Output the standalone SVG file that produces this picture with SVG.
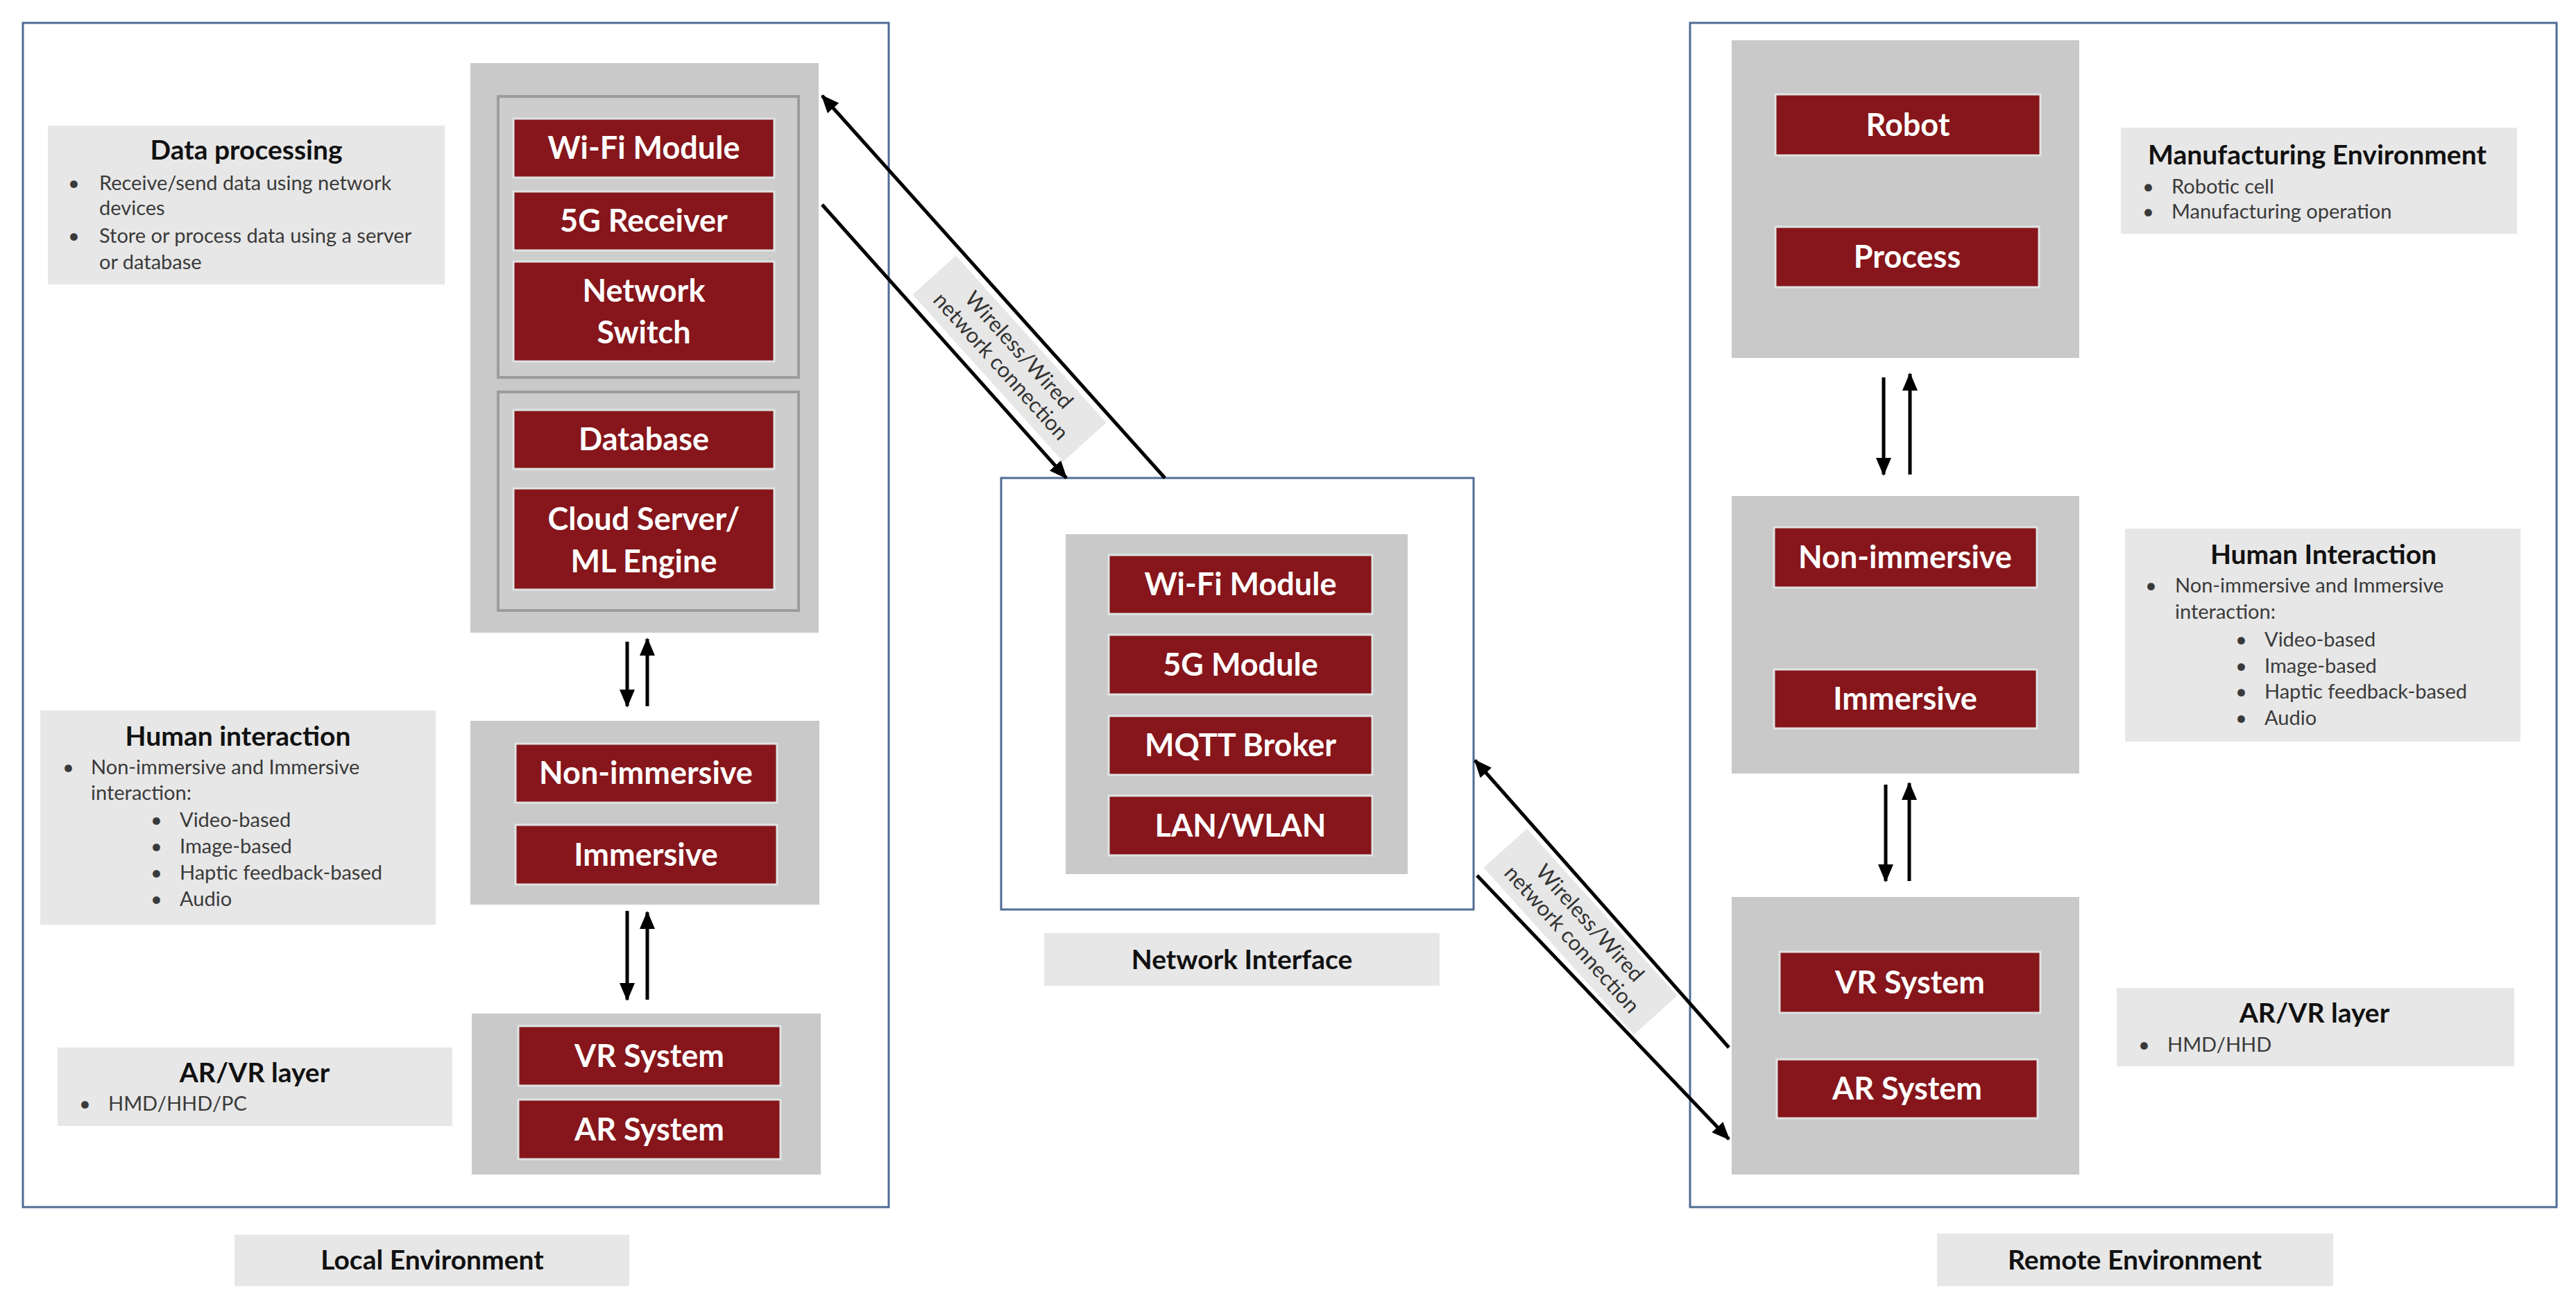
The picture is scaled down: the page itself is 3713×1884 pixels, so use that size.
<svg xmlns="http://www.w3.org/2000/svg" width="3713" height="1884" viewBox="0 0 3713 1884">
<defs>
<style>
text{font-family:Lato,"Liberation Sans",sans-serif}
.env{fill:#fff;stroke:#506c94;stroke-width:3}
.stack{fill:#c9c9c9}
.panel{fill:#cdcdcd;stroke:#9c9c9c;stroke-width:4}
.red{fill:#86161b;stroke:#dfe3e3;stroke-width:3}
.note{fill:#e7e7e7}
.rt{font-weight:700;font-size:45px;fill:#fff;text-anchor:middle}
.ttl{font-weight:700;font-size:39px;fill:#111;text-anchor:middle}
.body{font-size:29px;fill:#3a3a3a}
.wl{font-size:31px;fill:#333;text-anchor:middle}
.conn{stroke:#000;stroke-width:5;fill:none;marker-end:url(#ah)}
</style>
<marker id="ah" viewBox="0 0 26 22" refX="24" refY="11" markerWidth="26" markerHeight="22" markerUnits="userSpaceOnUse" orient="auto">
<path d="M0,0 L26,11 L0,22 z" fill="#000"/>
</marker>
</defs>
<rect width="3713" height="1884" fill="#fff"/>

<g id="local-env">
<rect class="env" x="33" y="33" width="1248" height="1707"/>
</g>
<g id="local-env-label">
<rect class="note" x="338" y="1780" width="569" height="74"/>
<text class="ttl" x="623" y="1830">Local Environment</text>
</g>

<g id="data-processing-note">
<rect class="note" x="69" y="181" width="572" height="229"/>
<text class="ttl" x="355" y="230">Data processing</text>
<text class="body" x="98" y="274">•</text><text class="body" x="143" y="274">Receive/send data using network</text>
<text class="body" x="143" y="310">devices</text>
<text class="body" x="98" y="350">•</text><text class="body" x="143" y="350">Store or process data using a server</text>
<text class="body" x="143" y="388">or database</text>
</g>

<g id="local-data-stack">
<rect class="stack" x="678" y="91" width="502" height="821"/>
<rect class="panel" x="718" y="139" width="433" height="405"/>
<rect class="panel" x="718" y="565" width="433" height="315"/>
<rect class="red" x="740" y="171" width="376" height="85"/><text class="rt" x="928" y="229">Wi-Fi Module</text>
<rect class="red" x="740" y="276" width="376" height="85"/><text class="rt" x="928" y="334">5G Receiver</text>
<rect class="red" x="740" y="377" width="376" height="144"/><text class="rt" x="928" y="435">Network</text><text class="rt" x="928" y="495">Switch</text>
<rect class="red" x="740" y="591" width="376" height="85"/><text class="rt" x="928" y="649">Database</text>
<rect class="red" x="740" y="704" width="376" height="146"/><text class="rt" x="928" y="764">Cloud Server/</text><text class="rt" x="928" y="825">ML Engine</text>
</g>

<g id="local-human-note">
<rect class="note" x="58" y="1024" width="570" height="309"/>
<text class="ttl" x="343" y="1075">Human interaction</text>
<text class="body" x="90" y="1116">•</text><text class="body" x="131" y="1116">Non-immersive and Immersive</text>
<text class="body" x="131" y="1153">interaction:</text>
<text class="body" x="217" y="1192">•</text><text class="body" x="259" y="1192">Video-based</text>
<text class="body" x="217" y="1230">•</text><text class="body" x="259" y="1230">Image-based</text>
<text class="body" x="217" y="1268">•</text><text class="body" x="259" y="1268">Haptic feedback-based</text>
<text class="body" x="217" y="1306">•</text><text class="body" x="259" y="1306">Audio</text>
</g>

<g id="local-interaction-stack">
<rect class="stack" x="678" y="1039" width="503" height="265"/>
<rect class="red" x="743" y="1072" width="377" height="85"/><text class="rt" x="931" y="1130">Non-immersive</text>
<rect class="red" x="743" y="1189" width="377" height="86"/><text class="rt" x="931" y="1248">Immersive</text>
</g>

<g id="local-arvr-note">
<rect class="note" x="83" y="1510" width="569" height="113"/>
<text class="ttl" x="367" y="1560">AR/VR layer</text>
<text class="body" x="114" y="1601">•</text><text class="body" x="156" y="1601">HMD/HHD/PC</text>
</g>

<g id="local-arvr-stack">
<rect class="stack" x="680" y="1461" width="503" height="232"/>
<rect class="red" x="747" y="1479" width="378" height="86"/><text class="rt" x="936" y="1538">VR System</text>
<rect class="red" x="747" y="1585" width="378" height="86"/><text class="rt" x="936" y="1644">AR System</text>
</g>

<g id="network-interface">
<rect class="env" x="1443" y="689" width="681" height="622"/>
<rect class="stack" x="1536" y="770" width="493" height="490"/>
<rect class="red" x="1598" y="800" width="380" height="85"/><text class="rt" x="1788" y="858">Wi-Fi Module</text>
<rect class="red" x="1598" y="915" width="380" height="86"/><text class="rt" x="1788" y="974">5G Module</text>
<rect class="red" x="1598" y="1032" width="380" height="85"/><text class="rt" x="1788" y="1090">MQTT Broker</text>
<rect class="red" x="1598" y="1147" width="380" height="86"/><text class="rt" x="1788" y="1206">LAN/WLAN</text>
</g>
<g id="network-interface-label">
<rect class="note" x="1505" y="1345" width="570" height="76"/>
<text class="ttl" x="1790" y="1397">Network Interface</text>
</g>

<g id="remote-env">
<rect class="env" x="2436" y="33" width="1249" height="1707"/>
</g>
<g id="remote-env-label">
<rect class="note" x="2792" y="1778" width="571" height="76"/>
<text class="ttl" x="3077" y="1830">Remote Environment</text>
</g>

<g id="remote-manufacturing-stack">
<rect class="stack" x="2496" y="58" width="501" height="458"/>
<rect class="red" x="2559" y="136" width="382" height="88"/><text class="rt" x="2750" y="196">Robot</text>
<rect class="red" x="2559" y="327" width="380" height="87"/><text class="rt" x="2749" y="386">Process</text>
</g>

<g id="manufacturing-note">
<rect class="note" x="3057" y="184" width="571" height="153"/>
<text class="ttl" x="3340" y="237">Manufacturing Environment</text>
<text class="body" x="3088" y="279">•</text><text class="body" x="3130" y="279">Robotic cell</text>
<text class="body" x="3088" y="315">•</text><text class="body" x="3130" y="315">Manufacturing operation</text>
</g>

<g id="remote-interaction-stack">
<rect class="stack" x="2496" y="715" width="501" height="400"/>
<rect class="red" x="2557" y="760" width="379" height="87"/><text class="rt" x="2746" y="819">Non-immersive</text>
<rect class="red" x="2557" y="965" width="379" height="85"/><text class="rt" x="2746" y="1023">Immersive</text>
</g>

<g id="remote-human-note">
<rect class="note" x="3063" y="762" width="570" height="307"/>
<text class="ttl" x="3349" y="813">Human Interaction</text>
<text class="body" x="3092" y="854">•</text><text class="body" x="3135" y="854">Non-immersive and Immersive</text>
<text class="body" x="3135" y="892">interaction:</text>
<text class="body" x="3222" y="932">•</text><text class="body" x="3264" y="932">Video-based</text>
<text class="body" x="3222" y="970">•</text><text class="body" x="3264" y="970">Image-based</text>
<text class="body" x="3222" y="1007">•</text><text class="body" x="3264" y="1007">Haptic feedback-based</text>
<text class="body" x="3222" y="1045">•</text><text class="body" x="3264" y="1045">Audio</text>
</g>

<g id="remote-arvr-stack">
<rect class="stack" x="2496" y="1293" width="501" height="400"/>
<rect class="red" x="2565" y="1372" width="376" height="88"/><text class="rt" x="2753" y="1432">VR System</text>
<rect class="red" x="2561" y="1527" width="376" height="85"/><text class="rt" x="2749" y="1585">AR System</text>
</g>

<g id="remote-arvr-note">
<rect class="note" x="3051" y="1424" width="573" height="113"/>
<text class="ttl" x="3336" y="1474">AR/VR layer</text>
<text class="body" x="3082" y="1516">•</text><text class="body" x="3124" y="1516">HMD/HHD</text>
</g>

<g id="connectors">
<line class="conn" x1="904" y1="925" x2="904" y2="1018"/>
<line class="conn" x1="933" y1="1018" x2="933" y2="921"/>
<line class="conn" x1="904" y1="1313" x2="904" y2="1441"/>
<line class="conn" x1="933" y1="1441" x2="933" y2="1315"/>
<line class="conn" x1="2715" y1="544" x2="2715" y2="684"/>
<line class="conn" x1="2753" y1="684" x2="2753" y2="539"/>
<line class="conn" x1="2718" y1="1131" x2="2718" y2="1270"/>
<line class="conn" x1="2752" y1="1270" x2="2752" y2="1129"/>
<line class="conn" x1="1679" y1="689" x2="1185" y2="138"/>
<line class="conn" x1="1185" y1="295" x2="1537" y2="689"/>
<line class="conn" x1="2492" y1="1510" x2="2126" y2="1096"/>
<line class="conn" x1="2129" y1="1262" x2="2492" y2="1642"/>
<g transform="translate(1455,517) rotate(48)">
<rect class="note" x="-162" y="-42" width="324" height="84"/>
<text class="wl" x="0" y="-8">Wireless/Wired</text>
<text class="wl" x="0" y="27">network connection</text>
</g>
<g transform="translate(2278,1343) rotate(48)">
<rect class="note" x="-162" y="-42" width="324" height="84"/>
<text class="wl" x="0" y="-8">Wireless/Wired</text>
<text class="wl" x="0" y="27">network connection</text>
</g>
</g>
</svg>
